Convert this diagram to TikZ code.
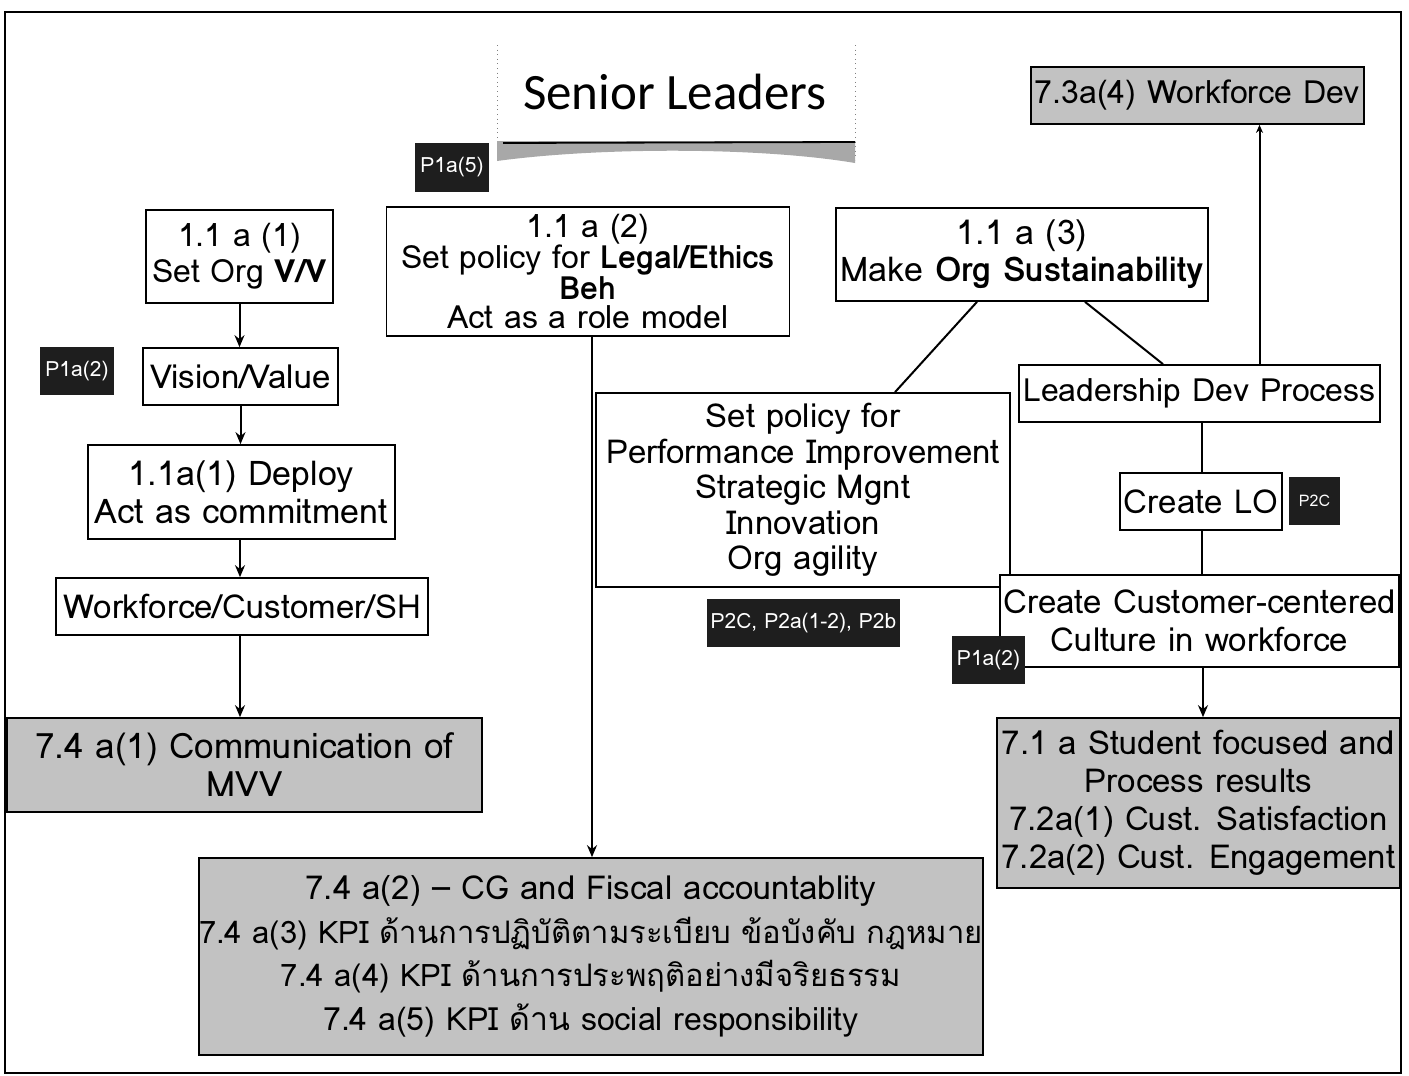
\documentclass[tikz,border=0pt]{standalone}
\usepackage{fontspec}
\setmainfont{Loma}
\newfontfamily\thaifont[Script=Thai]{Loma}
\newfontfamily\titlefont{Carlito}
\usetikzlibrary{arrows.meta,calc}
\definecolor{resgray}{HTML}{C2C2C2}
\definecolor{tagdark}{HTML}{1E1E1E}
\definecolor{bandgray}{HTML}{A8A8A8}
\newcommand{\fs}[2]{\fontsize{#1}{#2}\selectfont}

\begin{document}
\begin{tikzpicture}[x=1pt,y=-1pt,
  box/.style={draw,line width=1.7pt,fill=white,inner sep=0pt,align=center,
    font=\fs{33}{38}},
  result/.style={box,fill=resgray},
  tag/.style={fill=tagdark,text=white,inner sep=0pt,font=\fs{21}{24}},
  link/.style={line width=2pt},
  arr/.style={link,-{Stealth[length=12pt,width=10pt]}}
]
\useasboundingbox (0,0) rectangle (1409,1076);
\fill[white] (0,0) rectangle (1409,1076);

% slide frame
\draw[line width=1.5pt] (5,12) rectangle (1401,1073);

% title banner
\draw[gray,line width=0.6pt,loosely dotted] (497,45) -- (497,160) (855,45) -- (855,160);
\fill[bandgray] (497,141) -- (855,141) -- (855,163)
  .. controls (760,147) and (600,147) .. (497,161) -- cycle;
\draw[line width=1.8pt] (503,143) -- (855,142);
\node[font=\titlefont\fs{51}{54}] (title) at (675,92) {Senior Leaders};

% left column
\node[box,minimum width=187pt,minimum height=93pt,font=\fs{32}{36}] (t1) at (239.5,256.5)
  {1.1 a (1)\\Set Org \textbf{V/V}};
\node[box,minimum width=195pt,minimum height=57pt] (vv) at (240.5,376.5) {Vision/Value};
\node[box,minimum width=307pt,minimum height=94pt,font=\fs{34}{38}] (dep) at (241.5,492)
  {1.1a(1) Deploy\\Act as commitment};
\node[box,minimum width=372pt,minimum height=57pt] (wcs) at (242,606.5)
  {Workforce/Customer/SH};
\node[result,minimum width=475pt,minimum height=94pt,font=\fs{35}{38}] (r1) at (244.5,765)
  {7.4 a(1) Communication of\\MVV};

% middle column
\node[box,minimum width=403pt,minimum height=129pt,
  font=\fs{32}{29.5}] (t2) at (588,271.5)
  {1.1 a (2)\\Set policy for \textbf{Legal/Ethics}\\\textbf{Beh}\\Act as a role model};
\node[result,minimum width=782pt,minimum height=197pt,
  font=\thaifont\fs{31}{43.5}] (r2) at (591,956.5)
  {{\fs{33}{43.5}7.4 a(2) – CG and Fiscal accountablity}\\
   7.4 a(3) KPI ด้านการปฏิบัติตามระเบียบ ข้อบังคับ กฎหมาย\\
   7.4 a(4) KPI ด้านการประพฤติอย่างมีจริยธรรม\\
   {\fs{32}{43.5}7.4 a(5) KPI ด้าน social responsibility}};

% right column
\node[box,minimum width=372pt,minimum height=93pt,font=\fs{34}{37}] (t3) at (1022,254.5)
  {1.1 a (3)\\Make \textbf{Org Sustainability}};
\node[box,minimum width=414pt,minimum height=194pt,
  font=\fs{33}{35.5}] (sp) at (803,490)
  {Set policy for\\Performance Improvement\\Strategic Mgnt\\Innovation\\Org agility};
\node[result,minimum width=333pt,minimum height=57pt,font=\fs{32}{36}] (wd) at (1197.5,95.5)
  {7.3a(4) Workforce Dev};
\node[box,minimum width=361pt,minimum height=57pt,font=\fs{32}{36}] (ldp) at (1199.5,393.5)
  {Leadership Dev Process};
\node[box,minimum width=162pt,minimum height=57pt] (lo) at (1201,501.5) {Create LO};
\node[box,minimum width=399pt,minimum height=92pt,
  font=\fs{33}{38}] (cc) at (1199.5,621)
  {Create Customer-centered\\Culture in workforce};
\node[result,minimum width=403pt,minimum height=170pt,
  font=\fs{33}{38}] (r3) at (1198.5,803)
  {7.1 a Student focused and\\Process results\\7.2a(1) Cust. Satisfaction\\7.2a(2) Cust. Engagement};

% process tags
\node[tag,minimum width=74pt,minimum height=49pt] (p15) at (452,167.5) {P1a(5)};
\node[tag,minimum width=74pt,minimum height=48pt] (p12a) at (77,371) {P1a(2)};
\node[tag,minimum width=193pt,minimum height=48pt] (p2m) at (803.5,623) {P2C, P2a(1-2), P2b};
\node[tag,minimum width=51pt,minimum height=48pt,font=\fs{16}{18}] (p2c) at (1314.5,501) {P2C};
\node[tag,minimum width=73pt,minimum height=48pt] (p12b) at (988.5,660) {P1a(2)};

% connectors
\draw[arr] (t1.south) -- (t1.south |- vv.north);
\draw[arr] (vv.south) -- (vv.south |- dep.north);
\draw[arr] ([xshift=-1.5pt]dep.south) -- ([xshift=-1.5pt]dep.south |- wcs.north);
\draw[arr] ([xshift=-2pt]wcs.south) -- ([xshift=-2pt]wcs.south |- r1.north);
\draw[arr] ([xshift=4pt]t2.south) -- ([xshift=4pt]t2.south |- r2.north);
\draw[link] ([xshift=-45pt]t3.south) -- ([xshift=92pt]sp.north);
\draw[link] ([xshift=63pt]t3.south) -- ([xshift=-36.5pt]ldp.north);
\draw[link,-{Stealth[length=8pt,width=7pt,open]}] ([xshift=60pt]ldp.north) -- ([xshift=60pt]ldp.north |- wd.south);
\draw[link] ([xshift=2pt]ldp.south) -- ([xshift=2pt]ldp.south |- lo.north);
\draw[link] ([xshift=1pt]lo.south) -- ([xshift=1pt]lo.south |- cc.north);
\draw[arr] ([xshift=3.5pt]cc.south) -- ([xshift=3.5pt]cc.south |- r3.north);
\end{tikzpicture}
\end{document}
